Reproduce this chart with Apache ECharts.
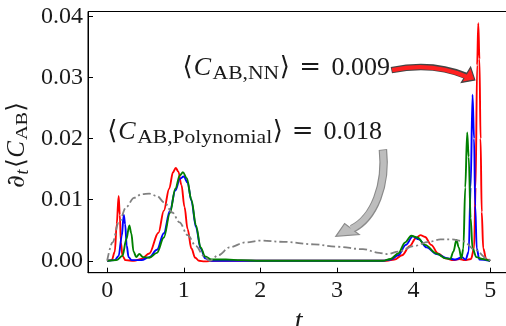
<!DOCTYPE html>
<html><head><meta charset="utf-8">
<script src="https://cdn.jsdelivr.net/npm/echarts@6/dist/echarts.min.js"></script>
<style>html,body{margin:0;padding:0;background:#fff}#c{width:506px;height:326px}</style>
</head><body><div id="c"></div>
<script>
const xTicks = [0, 1, 2, 3, 4, 5];
const yTicks = [0, 0.01, 0.02, 0.03, 0.04];
const redSeries = [[0,0],[0.06,0.0001],[0.1,0.0015],[0.125,0.006],[0.15,0.0106],[0.165,0.0075],[0.18,0.003],[0.2,0.0008],[0.24,0.0001],[0.35,0],[0.45,0.0003],[0.55,0.0012],[0.67,0.0046],[0.74,0.0082],[0.81,0.0118],[0.86,0.0145],[0.895,0.0152],[0.93,0.0146],[0.97,0.0124],[1.01,0.0088],[1.05,0.0052],[1.1,0.002],[1.15,0.0005],[1.2,0.0],[1.27,-0.0001],[1.4,0],[3.65,0],[3.75,0.0002],[3.85,0.0009],[3.95,0.0024],[4.03,0.0037],[4.09,0.0042],[4.15,0.0039],[4.23,0.0026],[4.32,0.0012],[4.42,0.0004],[4.52,0.0001],[4.6,0.0003],[4.67,0.0001],[4.75,0.0003],[4.79,0.002],[4.81,0.012],[4.83,0.032],[4.845,0.0389],[4.86,0.033],[4.875,0.02],[4.89,0.008],[4.91,0.002],[4.95,0.0002],[5,0]];
const blueSeries = [[0,0],[0.1,0.0001],[0.15,0.0008],[0.19,0.004],[0.217,0.0075],[0.235,0.006],[0.255,0.0025],[0.28,0.0006],[0.32,0.0001],[0.45,0.0001],[0.55,0.0006],[0.65,0.0018],[0.74,0.0045],[0.82,0.0082],[0.89,0.0115],[0.95,0.0134],[1.0,0.0138],[1.05,0.0128],[1.1,0.0098],[1.16,0.0055],[1.22,0.002],[1.28,0.0004],[1.35,0],[3.6,0],[3.7,0.0002],[3.8,0.0009],[3.9,0.0026],[3.99,0.004],[4.07,0.0035],[4.17,0.0022],[4.3,0.0011],[4.45,0.0004],[4.55,0.0002],[4.63,0.0006],[4.68,0.0002],[4.72,0.0015],[4.745,0.012],[4.77,0.0272],[4.79,0.02],[4.805,0.009],[4.825,0.002],[4.86,0.0002],[5,0]];
const greenSeries = [[0,0],[0.12,0.0001],[0.2,0.0008],[0.25,0.0035],[0.29,0.0058],[0.315,0.0045],[0.345,0.0015],[0.38,0.0006],[0.42,0.0011],[0.47,0.0006],[0.55,0.0005],[0.65,0.0013],[0.74,0.0038],[0.82,0.0078],[0.89,0.0118],[0.95,0.014],[0.99,0.0145],[1.04,0.0135],[1.1,0.01],[1.16,0.0058],[1.22,0.0022],[1.28,0.0007],[1.36,0.0002],[1.55,0.0002],[1.75,0.0001],[2.0,0],[3.6,0],[3.7,0.0003],[3.8,0.0012],[3.89,0.003],[3.97,0.0041],[4.05,0.0038],[4.15,0.0026],[4.3,0.0012],[4.42,0.0004],[4.48,0.0003],[4.52,0.0015],[4.56,0.0034],[4.59,0.0022],[4.625,0.0004],[4.65,0.002],[4.675,0.012],[4.70,0.021],[4.72,0.017],[4.745,0.007],[4.77,0.002],[4.82,0.0006],[4.9,0.0003],[5,0]];
const polySeries = [[0,0],[0.07,0.003],[0.15,0.0062],[0.25,0.0088],[0.35,0.0103],[0.45,0.0109],[0.55,0.011],[0.65,0.0106],[0.75,0.0095],[0.85,0.0079],[0.945,0.0063],[1.05,0.0042],[1.16,0.0024],[1.26,0.0008],[1.34,0],[1.45,0.0009],[1.6,0.0022],[1.8,0.003],[2.0,0.0033],[2.3,0.0031],[2.7,0.0027],[3.0,0.0023],[3.34,0.0019],[3.55,0.0013],[3.66,0.0011],[3.8,0.0015],[4.0,0.0024],[4.2,0.0031],[4.35,0.0035],[4.5,0.0035],[4.65,0.0032],[4.8,0.0018],[4.97,0.0003],[5,0]];

const SERIF = '"Liberation Serif", "DejaVu Serif", serif';
const DVS = '"DejaVu Serif", serif';
const TXT = '#1a1a1a';
const chart = echarts.init(document.getElementById('c'), null, {renderer: 'canvas'});

function lineSeries(data, color, extra) {
  return Object.assign({
    type: 'line', data: data, showSymbol: false, smooth: 0.35, smoothMonotone: 'x',
    lineStyle: {color: color, width: 1.9}, itemStyle: {color: color}, z: 3, silent: true
  }, extra || {});
}

chart.setOption({
  animation: false,
  grid: {left: 88, top: 11.5, right: -3.3, bottom: 53.3, show: true, borderColor: '#000', borderWidth: 1,
         containLabel: false, outerBoundsMode: 'none'},
  xAxis: {
    type: 'value', min: -0.25, max: 5.25,
    axisLine: {show: true, onZero: false, lineStyle: {color: '#000', width: 1}},
    axisTick: {show: true, inside: true, length: 5, lineStyle: {color: '#000'}, customValues: xTicks},
    axisLabel: {color: TXT, fontFamily: SERIF, fontSize: 24, margin: 6, customValues: xTicks, formatter: v => String(v)},
    splitLine: {show: false},
    name: '{i|t}', nameLocation: 'middle', nameGap: 28,
    nameTextStyle: {rich: {i: {fontFamily: SERIF, fontStyle: 'italic', fontSize: 28, color: TXT}}}
  },
  yAxis: {
    type: 'value', min: -0.00195, max: 0.0408,
    axisLine: {show: true, onZero: false, lineStyle: {color: '#000', width: 1}},
    axisTick: {show: true, inside: true, length: 5, lineStyle: {color: '#000'}, customValues: yTicks},
    axisLabel: {color: TXT, fontFamily: SERIF, fontSize: 24, margin: 5, customValues: yTicks, formatter: v => v.toFixed(2)},
    splitLine: {show: false}
  },
  series: [
    lineSeries(redSeries, '#ff0000'),
    lineSeries(blueSeries, '#0000ff'),
    lineSeries(greenSeries, '#008000'),
    lineSeries(polySeries, '#808080', {lineStyle: {color: '#808080', width: 1.8, type: [8, 3, 2, 3]}, z: 4})
  ]
});

const p = d => chart.convertToPixel({gridIndex: 0}, d);

// --- math-like text built from pieces ---
const mctx = document.createElement('canvas').getContext('2d');
function fontStr(pc) { return (pc.it ? 'italic ' : '') + pc.size + 'px ' + (pc.fam || SERIF); }
function measure(pc) { mctx.font = fontStr(pc); return mctx.measureText(pc.t).width * (pc.sx || 1); }
function mathPieces(pieces) {
  let x = 0; const out = [];
  pieces.forEach(pc => {
    x += pc.gap || 0;
    out.push({type: 'text', x: x, y: pc.dy || 0, scaleX: pc.sx || 1,
      style: {text: pc.t, font: fontStr(pc), fill: TXT, align: 'left', verticalAlign: 'middle'}});
    x += measure(pc);
  });
  return out;
}
function piecesWidth(pieces) { return pieces.reduce((s, pc) => s + (pc.gap || 0) + measure(pc), 0); }

const M = 26, S = 18, SX = 1.2, SDY = 6;
const nnPieces = [
  {t: '⟨', size: M}, {t: 'C', size: M, it: true, gap: 1},
  {t: 'AB,NN', size: S, sx: SX, dy: SDY, gap: 1.5},
  {t: '⟩', size: M, gap: 0.5}, {t: '=', size: M, fam: DVS, gap: 9.5}, {t: '0.009', size: M, gap: 10.5}
];
const polyPieces = [
  {t: '⟨', size: M}, {t: 'C', size: M, it: true, gap: 1},
  {t: 'AB,Polynomial', size: S, sx: SX, dy: SDY, gap: 1.5},
  {t: '⟩', size: M, gap: 0.5}, {t: '=', size: M, fam: DVS, gap: 9}, {t: '0.018', size: M, gap: 10}
];
const ylabPieces = [
  {t: '∂', size: 25, fam: DVS}, {t: 't', size: 18, it: true, dy: 5.5, gap: 0.5},
  {t: '⟨', size: 25, gap: 1.5}, {t: 'C', size: 25, it: true, gap: 0.5},
  {t: 'AB', size: 17, sx: 1.2, dy: 5.5, gap: 1}, {t: '⟩', size: 25}
];

// annotation anchors (data coordinates: left edge, middle line of main glyphs)
const nnText = [0.985, 0.0315];
const polyText = [0.0, 0.0210];
const t1 = p(nnText), t2 = p(polyText);

// arrows (data coords)
const redTail = p([3.71, 0.0312]);
const redCtrl = p([4.25, 0.0326]);
const redBase = p([4.70, 0.0302]);
const redEnd = p([4.715, 0.0300]);
const redH1 = p([4.745, 0.0317]);
const redH2 = p([4.625, 0.0292]);
const redTip = p([4.80, 0.0296]);

const gTail = p([3.6, 0.0182]);
const gC1 = p([3.65, 0.0125]);
const gC2 = p([3.49, 0.0070]);
const gBase = p([3.195, 0.0052]);
const gEnd = p([3.18, 0.00515]);
const gH1 = p([3.1, 0.0061]);
const gH2 = p([3.29, 0.0043]);
const gTip = p([2.985, 0.0040]);

const ylabW = piecesWidth(ylabPieces);

chart.setOption({graphic: [
  {type: 'group', x: t1[0], y: t1[1], children: mathPieces(nnPieces), z: 10},
  {type: 'group', x: t2[0], y: t2[1], children: mathPieces(polyPieces), z: 10},
  {type: 'group', x: 17.5, y: 145 + ylabW / 2, rotation: Math.PI / 2, children: mathPieces(ylabPieces), z: 10},
  // red arrow
  {type: 'bezierCurve', shape: {x1: redTail[0], y1: redTail[1], cpx1: redCtrl[0], cpy1: redCtrl[1], x2: redBase[0], y2: redBase[1]}, style: {stroke: '#444', lineWidth: 6.4, fill: null}, z: 11},
  {type: 'polygon', shape: {points: [redH1, redTip, redH2]}, style: {fill: '#ff2020', stroke: '#444', lineWidth: 1.2, lineJoin: 'miter'}, z: 12},
  {type: 'bezierCurve', shape: {x1: redTail[0] + 0.8, y1: redTail[1], cpx1: redCtrl[0], cpy1: redCtrl[1], x2: redEnd[0], y2: redEnd[1]}, style: {stroke: '#ff2020', lineWidth: 4.2, fill: null}, z: 13},
  // gray arrow
  {type: 'bezierCurve', shape: {x1: gTail[0], y1: gTail[1], cpx1: gC1[0], cpy1: gC1[1], cpx2: gC2[0], cpy2: gC2[1], x2: gBase[0], y2: gBase[1]}, style: {stroke: '#8a8a8a', lineWidth: 8.5, fill: null}, z: 11},
  {type: 'polygon', shape: {points: [gH1, gTip, gH2]}, style: {fill: '#bdbdbd', stroke: '#8a8a8a', lineWidth: 1.2}, z: 12},
  {type: 'bezierCurve', shape: {x1: gTail[0], y1: gTail[1] + 0.8, cpx1: gC1[0], cpy1: gC1[1], cpx2: gC2[0], cpy2: gC2[1], x2: gEnd[0], y2: gEnd[1]}, style: {stroke: '#bdbdbd', lineWidth: 6.2, fill: null}, z: 13}
]});
</script></body></html>
